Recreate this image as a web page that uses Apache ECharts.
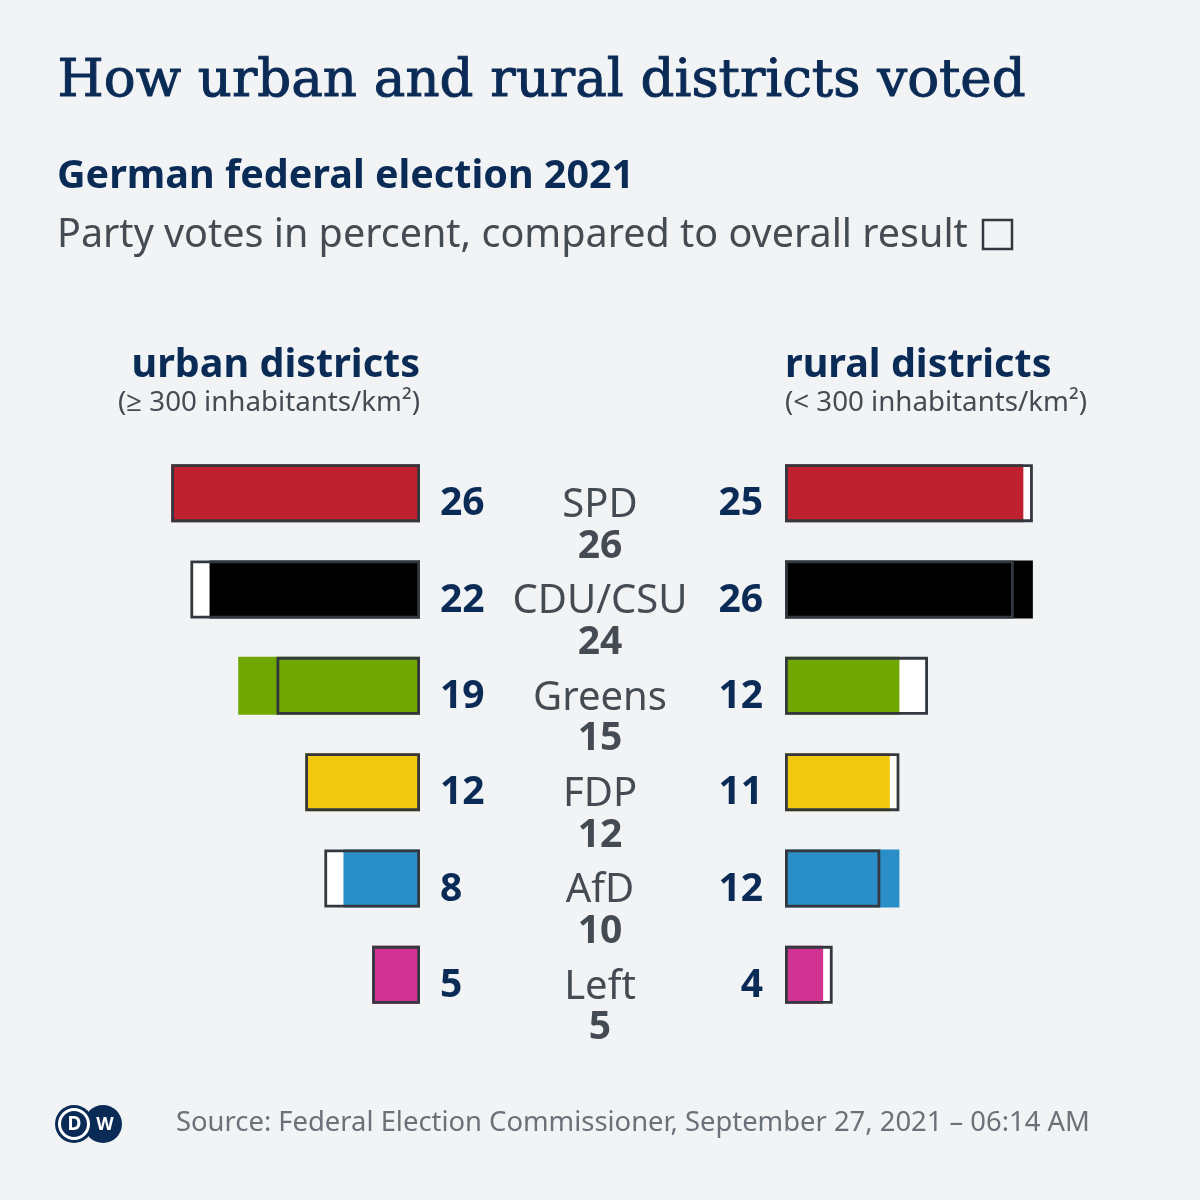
<!DOCTYPE html>
<html>
<head>
<meta charset="utf-8">
<script src="https://cdn.jsdelivr.net/npm/echarts@6/dist/echarts.min.js"></script>
<style>
html,body{margin:0;padding:0;background:#f1f3f5;}
#chart{width:1200px;height:1200px;}
</style>
</head>
<body>
<div id="chart"></div>
<script>
const parties = ['SPD', 'CDU/CSU', 'Greens', 'FDP', 'AfD', 'Left'];
const urbanValues = [26, 22, 19, 12, 8, 5];
const ruralValues = [25, 26, 12, 11, 12, 4];
const overallValues = [26, 24, 15, 12, 10, 5];
const partyColors = ['#be202e', '#000000', '#70a600', '#f0c80e', '#2a8fc8', '#d03391'];

const NAVY = '#0b2b57';
const GRAY = '#454b53';
const OUTLINE = '#33383f';
const SANS = '"Noto Sans", "Open Sans", sans-serif';

function barSeries(gridIdx, values) {
  return [
    {
      type: 'bar', xAxisIndex: gridIdx, yAxisIndex: gridIdx,
      data: overallValues, barWidth: 58, barGap: '-100%',
      itemStyle: { color: '#ffffff' }, silent: true, z: 1
    },
    {
      type: 'bar', xAxisIndex: gridIdx, yAxisIndex: gridIdx,
      data: values.map((v, i) => ({ value: v, itemStyle: { color: partyColors[i] } })),
      barWidth: 58, barGap: '-100%', silent: true, z: 2
    },
    {
      type: 'bar', xAxisIndex: gridIdx, yAxisIndex: gridIdx,
      data: overallValues, barWidth: 58, barGap: '-100%',
      itemStyle: { color: 'rgba(0,0,0,0)', borderColor: OUTLINE, borderWidth: 2.8 },
      silent: true, z: 3
    }
  ];
}

function labelAxis(gridIdx, pos, align, margin, values) {
  return {
    gridIndex: gridIdx, type: 'category', data: parties, inverse: true, position: pos,
    axisLine: { show: false }, axisTick: { show: false },
    axisLabel: {
      margin: margin, align: align, color: NAVY, fontFamily: SANS, fontWeight: 'bold', fontSize: 39,
      formatter: (v, i) => String(values[i])
    }
  };
}

const chart = echarts.init(document.getElementById('chart'));
chart.setOption({
  animation: false,
  backgroundColor: '#f1f3f5',
  grid: [
    { left: 133, width: 287, top: 445, height: 578 },
    { left: 785, width: 286, top: 445, height: 578 },
    { left: 600, width: 10, top: 478, height: 578 },
    { left: 133, width: 287, top: 456, height: 578 },
    { left: 785, width: 286, top: 456, height: 578 }
  ],
  xAxis: [
    { gridIndex: 0, type: 'value', min: 0, max: 30, inverse: true, show: false },
    { gridIndex: 1, type: 'value', min: 0, max: 30, show: false },
    { gridIndex: 2, type: 'value', min: 0, max: 30, show: false },
    { gridIndex: 3, type: 'value', min: 0, max: 30, inverse: true, show: false },
    { gridIndex: 4, type: 'value', min: 0, max: 30, show: false }
  ],
  yAxis: [
    { gridIndex: 0, type: 'category', data: parties, inverse: true, show: false },
    { gridIndex: 1, type: 'category', data: parties, inverse: true, show: false },
    {
      gridIndex: 2, type: 'category', data: parties, inverse: true, position: 'left',
      axisLine: { show: false }, axisTick: { show: false },
      axisLabel: {
        margin: 0, align: 'center',
        formatter: (v, i) => '{n|' + v + '}\n{v|' + overallValues[i] + '}',
        rich: {
          n: { fontFamily: SANS, fontSize: 40, color: GRAY, lineHeight: 41, align: 'center' },
          v: { fontFamily: SANS, fontSize: 39, fontWeight: 'bold', color: GRAY, lineHeight: 41, align: 'center' }
        }
      }
    },
    labelAxis(3, 'right', 'left', 20, urbanValues),
    labelAxis(4, 'left', 'right', 22, ruralValues)
  ],
  series: [].concat(barSeries(0, urbanValues), barSeries(1, ruralValues)),
  graphic: [
    { type: 'text', left: 57, top: 55, style: { text: 'How urban and rural districts voted', fill: NAVY, stroke: NAVY, lineWidth: 1, font: '53px "DejaVu Serif", serif' } },
    { type: 'text', left: 57, top: 157, style: { text: 'German federal election 2021', fill: NAVY, font: 'bold 39.5px ' + SANS } },
    { type: 'text', left: 57, top: 216, style: { text: 'Party votes in percent, compared to overall result', fill: GRAY, font: '39.5px ' + SANS } },
    { type: 'rect', shape: { x: 983, y: 220, width: 29, height: 29 }, style: { fill: 'none', stroke: OUTLINE, lineWidth: 2.5 } },

    { type: 'text', right: 780, top: 346, style: { text: 'urban districts', fill: NAVY, font: 'bold 39.5px ' + SANS } },
    { type: 'text', right: 780, top: 389, style: { text: '(≥ 300 inhabitants/km²)', fill: GRAY, font: '27.7px ' + SANS } },
    { type: 'text', left: 785, top: 346, style: { text: 'rural districts', fill: NAVY, font: 'bold 39.5px ' + SANS } },
    { type: 'text', left: 785, top: 389, style: { text: '(< 300 inhabitants/km²)', fill: GRAY, font: '27.7px ' + SANS } },

    { type: 'circle', shape: { cx: 103, cy: 1124, r: 19 }, style: { fill: NAVY } },
    { type: 'circle', shape: { cx: 74, cy: 1124, r: 19 }, style: { fill: NAVY } },
    { type: 'circle', shape: { cx: 74, cy: 1124, r: 14.5 }, style: { fill: 'none', stroke: '#ffffff', lineWidth: 3 } },
    { type: 'text', x: 74.5, y: 1125, style: { text: 'D', fill: '#ffffff', font: 'bold 19px ' + SANS, textAlign: 'center', textVerticalAlign: 'middle' } },
    { type: 'text', x: 105, y: 1125, style: { text: 'W', fill: '#ffffff', font: 'bold 18px ' + SANS, textAlign: 'center', textVerticalAlign: 'middle' } },
    { type: 'text', left: 176, top: 1110, style: { text: 'Source: Federal Election Commissioner, September 27, 2021 – 06:14 AM', fill: '#6b7179', font: '27.4px ' + SANS } }
  ]
});
</script>
</body>
</html>
